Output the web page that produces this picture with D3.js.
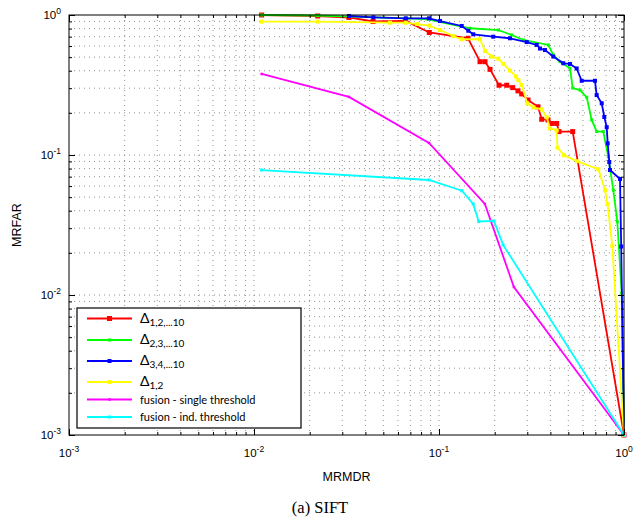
<!DOCTYPE html>
<html lang="en">
<head>
<meta charset="UTF-8">
<title>SIFT MRFAR vs MRMDR</title>
<script src="https://d3js.org/d3.v7.min.js"></script>
<style>
  body { margin: 0; background: #fff; }
  text { font-family: "Liberation Sans", Arial, sans-serif; }
</style>
</head>
<body>
<script>
// data: [MRMDR, MRFAR]
var red = [[0.011,1.0],[0.0221,0.984],[0.0326,0.96],[0.044,0.899],[0.0661,0.906],[0.0886,0.75],[0.1435,0.682],
  [0.1666,0.464],[0.1773,0.464],[0.1887,0.409],[0.2111,0.315],[0.2323,0.315],[0.2503,0.303],[0.2673,0.287],
  [0.2799,0.273],[0.3029,0.247],[0.3429,0.221],[0.359,0.18],[0.3883,0.178],[0.4066,0.168],[0.4327,0.168],
  [0.4452,0.147],[0.5281,0.147],[1,0.001]];
var green = [[0.011,1.0],[0.0221,0.992],[0.0669,0.947],[0.0858,0.936],[0.1471,0.804],[0.2092,0.781],[0.2472,0.72],
  [0.2856,0.663],[0.3898,0.611],[0.4147,0.518],[0.4509,0.464],[0.5106,0.416],[0.5281,0.301],[0.5785,0.291],
  [0.6288,0.258],[0.669,0.178],[0.7117,0.147],[0.7728,0.147],[0.8224,0.0972],[0.8754,0.0562],[0.9201,0.0334],
  [0.9719,0.0103],[1,0.001]];
var blue = [[0.0326,0.984],[0.0442,0.963],[0.0661,0.947],[0.0883,0.947],[0.1013,0.906],[0.1327,0.835],[0.144,0.772],
  [0.1532,0.728],[0.1965,0.70],[0.2419,0.682],[0.2979,0.641],[0.3374,0.611],[0.3515,0.576],[0.3741,0.562],
  [0.4147,0.505],[0.4697,0.452],[0.5106,0.447],[0.5548,0.415],[0.5906,0.339],[0.6968,0.339],[0.7117,0.268],
  [0.7577,0.234],[0.7825,0.187],[0.8064,0.158],[0.8164,0.121],[0.8326,0.0891],[0.84,0.0781],[0.9515,0.0674],
  [0.9658,0.0222],[1,0.001]];
var yellow = [[0.011,0.896],[0.0221,0.896],[0.0543,0.881],[0.0661,0.881],[0.0761,0.862],[0.0886,0.841],[0.1013,0.781],
  [0.1195,0.708],[0.1327,0.671],[0.1666,0.671],[0.1773,0.553],[0.1934,0.504],[0.2092,0.487],[0.2227,0.448],
  [0.2419,0.401],[0.2607,0.364],[0.2684,0.343],[0.2799,0.316],[0.3001,0.234],[0.3233,0.219],[0.359,0.212],
  [0.3821,0.186],[0.3981,0.155],[0.4327,0.15],[0.437,0.113],[0.4739,0.0997],[0.5568,0.0903],[0.7262,0.0791],
  [0.7897,0.056],[0.8143,0.0447],[0.8646,0.0224],[1,0.001]];
var magenta = [[0.011,0.379],[0.0326,0.26],[0.0883,0.122],[0.177,0.0447],[0.254,0.0114],[1,0.001]];
var cyan = [[0.011,0.0781],[0.0883,0.0663],[0.133,0.0556],[0.153,0.0447],[0.164,0.0335],[0.198,0.0338],
  [0.222,0.0228],[1,0.001]];

var seriesNames = ["Δ|1,2,...10", "Δ|2,3,...10", "Δ|3,4,...10", "Δ|1,2", "fusion - single threshold", "fusion - ind. threshold"];
var seriesColors = ["#ff0000", "#00ff00", "#0000ff", "#ffff00", "#ff00ff", "#00ffff"];
var markerSizes = [5, 3, 4, 4, 2.5, 3];
var allSeries = [red, green, blue, yellow, magenta, cyan];

var majorTicks = [1e-3, 1e-2, 1e-1, 1];
var xLabel = "MRMDR", yLabel = "MRFAR", caption = "(a)  SIFT";

var W = 641, H = 521;
// plot box (window.top is read-only, so no bare "top")
var plotL = 69, plotR = 624, plotT = 15, plotB = 435;

var svg = d3.select("body").append("svg").attr("width", W).attr("height", H);

var x = d3.scaleLog().domain([1e-3, 1]).range([plotL, plotR]);
var y = d3.scaleLog().domain([1e-3, 1]).range([plotB, plotT]);

// every 2..9 x decade inside the domain
var minorTicks = [];
[-3, -2, -1].forEach(function(e) {
  for (var k = 2; k <= 9; k++) minorTicks.push(k * Math.pow(10, e));
});
var gridVals = minorTicks.concat([1e-2, 1e-1]);

// dotted grid
var grid = svg.append("g").attr("stroke", "#777").attr("stroke-width", 0.8).attr("stroke-dasharray", "1,4");
grid.selectAll(".gx").data(gridVals).enter().append("line")
  .attr("x1", function(d) { return x(d); }).attr("x2", function(d) { return x(d); })
  .attr("y1", plotT).attr("y2", plotB);
grid.selectAll(".gy").data(gridVals).enter().append("line")
  .attr("y1", function(d) { return y(d); }).attr("y2", function(d) { return y(d); })
  .attr("x1", plotL).attr("x2", plotR);

// series
var line = d3.line().x(function(d) { return x(d[0]); }).y(function(d) { return y(d[1]); });
allSeries.forEach(function(data, i) {
  var g = svg.append("g");
  g.append("path").attr("d", line(data)).attr("fill", "none")
    .attr("stroke", seriesColors[i]).attr("stroke-width", 1.8);
  var s = markerSizes[i];
  g.selectAll("rect").data(data).enter().append("rect")
    .attr("x", function(d) { return x(d[0]) - s / 2; })
    .attr("y", function(d) { return y(d[1]) - s / 2; })
    .attr("width", s).attr("height", s)
    .attr("fill", seriesColors[i]);
});

// axes: inward ticks on all four sides
function addAxis(axisFn, scale, tx, ty, vals, size) {
  svg.append("g").attr("transform", "translate(" + tx + "," + ty + ")")
    .call(axisFn(scale).tickValues(vals).tickSize(size).tickFormat(""))
    .call(function(g) { g.select(".domain").remove(); })
    .selectAll("line").attr("stroke", "#000");
}
addAxis(d3.axisBottom, x, 0, plotB, majorTicks, -6);
addAxis(d3.axisBottom, x, 0, plotB, minorTicks, -3);
addAxis(d3.axisTop, x, 0, plotT, majorTicks, -6);
addAxis(d3.axisTop, x, 0, plotT, minorTicks, -3);
addAxis(d3.axisLeft, y, plotL, 0, majorTicks, -6);
addAxis(d3.axisLeft, y, plotL, 0, minorTicks, -3);
addAxis(d3.axisRight, y, plotR, 0, majorTicks, -6);
addAxis(d3.axisRight, y, plotR, 0, minorTicks, -3);

svg.append("rect").attr("x", plotL).attr("y", plotT).attr("width", plotR - plotL).attr("height", plotB - plotT)
  .attr("fill", "none").attr("stroke", "#000").attr("stroke-width", 1);

// tick labels 10^n
function powLabel(sel) {
  sel.append("tspan").text("10");
  sel.append("tspan").attr("dy", "-5").attr("font-size", "8.5px")
    .text(function(d) { var e = Math.round(Math.log10(d)); return e === 0 ? "0" : "-" + Math.abs(e); });
}
svg.append("g").selectAll("text").data(majorTicks).enter().append("text")
  .attr("x", function(d) { return x(d); }).attr("y", 457)
  .attr("text-anchor", "middle").attr("font-size", "11.5px")
  .call(powLabel);
svg.append("g").selectAll("text").data(majorTicks).enter().append("text")
  .attr("x", 61).attr("y", function(d) { return y(d) + 4; })
  .attr("text-anchor", "end").attr("font-size", "11.5px")
  .call(powLabel);

svg.append("text").attr("x", (plotL + plotR) / 2).attr("y", 481).attr("text-anchor", "middle")
  .attr("font-size", "12.5px").text(xLabel);
svg.append("text").attr("transform", "translate(21," + (plotT + plotB) / 2 + ") rotate(-90)")
  .attr("text-anchor", "middle").attr("font-size", "12.5px").text(yLabel);

svg.append("text").attr("x", 320).attr("y", 513).attr("text-anchor", "middle")
  .style("font-family", "'Liberation Serif', 'Times New Roman', serif").attr("font-size", "16.5px").text(caption);

// legend
var leg = svg.append("g");
leg.append("rect").attr("x", 77).attr("y", 308).attr("width", 224).attr("height", 120)
  .attr("fill", "#fff").attr("stroke", "#000").attr("stroke-width", 1.2);
var rowY = [318.5, 340, 361, 382, 399.5, 417];
seriesNames.forEach(function(name, i) {
  var ry = rowY[i];
  leg.append("line").attr("x1", 87).attr("x2", 132).attr("y1", ry).attr("y2", ry)
    .attr("stroke", seriesColors[i]).attr("stroke-width", 1.8);
  var s = markerSizes[i];
  leg.append("rect").attr("x", 109.5 - s / 2).attr("y", ry - s / 2).attr("width", s).attr("height", s)
    .attr("fill", seriesColors[i]);
  var t = leg.append("text").attr("x", 140).attr("y", ry + 4)
    .style("font-family", "Lato, 'Open Sans', sans-serif").attr("font-size", "11px");
  var parts = name.split("|");
  if (parts.length > 1) {
    t.append("tspan").attr("font-size", "14px").text(parts[0]);
    t.append("tspan").attr("dy", 3).attr("font-size", "10px").text(parts[1]);
  } else {
    t.text(name);
  }
});
</script>
</body>
</html>
